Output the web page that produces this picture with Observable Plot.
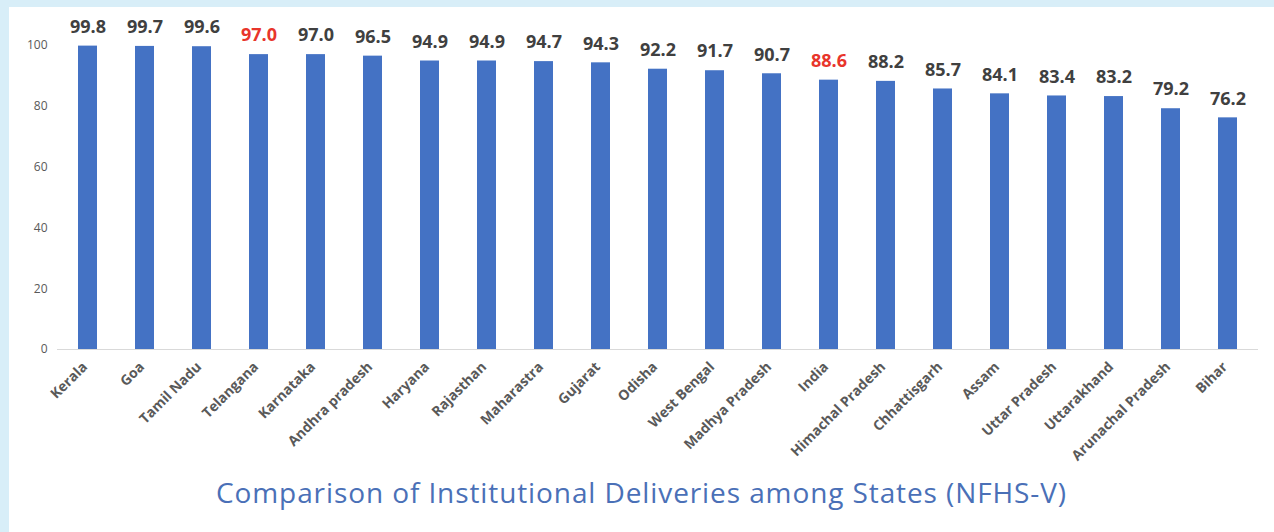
<!DOCTYPE html>
<html>
<head>
<meta charset="utf-8">
<script src="https://cdn.jsdelivr.net/npm/d3@7"></script>
<script src="https://cdn.jsdelivr.net/npm/@observablehq/plot@0.6"></script>
<style>
  html, body { margin: 0; padding: 0; }
  body { width: 1274px; height: 532px; background: #d8eef8; position: relative; overflow: hidden; }
  #panel { position: absolute; left: 9px; top: 7px; width: 1265px; height: 525px; background: #ffffff; }
  #title { position: absolute; left: 0; width: 1265px; top: 466px; text-align: center;
           font-family: "Open Sans", sans-serif; font-size: 28px; color: #4a70b7; letter-spacing: 0.9px; }
</style>
</head>
<body>
<div id="panel"><div id="chart"></div><div id="title">Comparison of Institutional Deliveries among States (NFHS-V)</div></div>
<script>
const states = ["Kerala", "Goa", "Tamil Nadu", "Telangana", "Karnataka", "Andhra pradesh", "Haryana", "Rajasthan", "Maharastra", "Gujarat", "Odisha", "West Bengal", "Madhya Pradesh", "India", "Himachal Pradesh", "Chhattisgarh", "Assam", "Uttar Pradesh", "Uttarakhand", "Arunachal Pradesh", "Bihar"];
const values = [99.8, 99.7, 99.6, 97.0, 97.0, 96.5, 94.9, 94.9, 94.7, 94.3, 92.2, 91.7, 90.7, 88.6, 88.2, 85.7, 84.1, 83.4, 83.2, 79.2, 76.2];
const highlighted = ["Telangana", "India"];
const yTicks = [0, 20, 40, 60, 80, 100];

const data = states.map((s, i) => ({state: s, value: values[i], hi: highlighted.includes(s)}));

const chart = Plot.plot({
  width: 1265,
  height: 460,
  marginLeft: 48,
  marginRight: 16,
  marginTop: 38,
  marginBottom: 118,
  style: {background: "transparent", fontFamily: "Open Sans, sans-serif"},
  x: {domain: states, paddingInner: 0.667, paddingOuter: 0.333, label: null},
  y: {domain: [0, 100], label: null},
  marks: [
    Plot.ruleY([0], {stroke: "#d9d9d9", strokeWidth: 1}),
    Plot.barY(data, {x: "state", y: "value", fill: "#4472c4"}),
    Plot.text(data, {x: "state", y: "value", text: d => d.value.toFixed(1), dy: -19,
      fill: d => d.hi ? "#e8352b" : "#404040", fontSize: 18, fontWeight: 700, lineAnchor: "middle"}),
    Plot.axisY({ticks: yTicks, tickSize: 0, tickPadding: 10, fontSize: 12, color: "#595959", label: null}),
    Plot.axisX({tickSize: 0, tickPadding: 15, dx: -3, tickRotate: -45, fontSize: 14, fontWeight: 700, color: "#595959", label: null})
  ]
});
document.getElementById("chart").appendChild(chart);
</script>
</body>
</html>
